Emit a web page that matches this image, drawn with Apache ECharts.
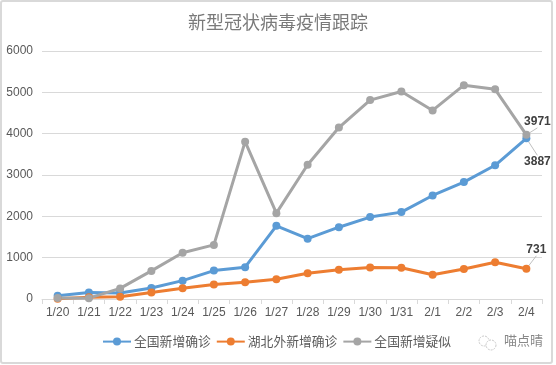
<!DOCTYPE html>
<html><head><meta charset="utf-8">
<script src="https://cdn.jsdelivr.net/npm/echarts@6/dist/echarts.min.js"></script>
<style>html,body{margin:0;padding:0;background:#fff}#c{width:556px;height:365px}</style>
</head><body><div id="c"></div>
<script>
const categories = ['1/20','1/21','1/22','1/23','1/24','1/25','1/26','1/27','1/28','1/29','1/30','1/31','2/1','2/2','2/3','2/4'];
const nationalConfirmed = [80, 160, 145, 265, 444, 688, 769, 1771, 1459, 1737, 1982, 2102, 2505, 2829, 3235, 3887];
const outsideHubeiConfirmed = [5, 40, 57, 155, 262, 350, 403, 478, 621, 705, 762, 755, 585, 726, 890, 731];
const nationalSuspected = [27, 20, 257, 680, 1118, 1309, 3806, 2077, 3248, 4148, 4812, 5019, 4562, 5173, 5072, 3971];
const seriesNames = ['全国新增确诊','湖北外新增确诊','全国新增疑似'];
const yTicks = [0, 1000, 2000, 3000, 4000, 5000, 6000];

const font = '"Noto Sans CJK SC", "Noto Sans", sans-serif';
const chart = echarts.init(document.getElementById('c'), null, {renderer:'canvas'});
const last = categories.length - 1;
function lastOnly(arr, lab) {
  return arr.map((v, i) => i === last ? {value: v, label: Object.assign({show: true}, lab)} : v);
}
const labelStyle = {color:'#404040', fontSize:12, fontFamily:'Liberation Sans, Arial, sans-serif', fontWeight:'bold'};
function mk(name, data, color, lab, layout) {
  return {
    name, type:'line', data: lastOnly(data, Object.assign({}, labelStyle, lab)),
    symbol:'circle', symbolSize:8, showSymbol:true,
    lineStyle:{color, width:3}, itemStyle:{color},
    label:{show:false},
    labelLayout: layout,
    labelLine:{show:true, lineStyle:{color:'#bfbfbf', width:1}},
    emphasis:{disabled:true}, animation:false, z: 2
  };
}
chart.setOption({
  animation:false,
  title:{text:'新型冠状病毒疫情跟踪', left:'center', top:8,
    textStyle:{fontFamily:font, fontSize:18, fontWeight:'normal', color:'#7a7a7a'}},
  grid:{left:42, right:14, top:51, bottom:66},
  legend:{bottom:12, left:97, itemWidth:28, itemHeight:10, itemGap:5,
    textStyle:{fontFamily:font, fontSize:12.8, color:'#595959', padding:[0,0,0,-2]},
    data: seriesNames},
  xAxis:{type:'category', data:categories, boundaryGap:true,
    axisLine:{lineStyle:{color:'#d9d9d9'}},
    axisTick:{show:true, alignWithLabel:false, length:5, lineStyle:{color:'#d9d9d9'}},
    axisLabel:{color:'#595959', fontSize:12, fontFamily:'Liberation Sans, Arial, sans-serif', margin:8, interval:0}},
  yAxis:{type:'value', min:yTicks[0], max:yTicks[yTicks.length-1], interval:1000,
    axisLine:{show:false}, axisTick:{show:false},
    splitLine:{lineStyle:{color:'#d9d9d9'}},
    axisLabel:{color:'#595959', fontSize:12, fontFamily:'Liberation Sans, Arial, sans-serif', margin:9,
      formatter: v => String(v)}},
  series:[
    mk(seriesNames[0], nationalConfirmed, '#5B9BD5', {position:'bottom', distance:5}, {dx:11, dy:8}),
    mk(seriesNames[1], outsideHubeiConfirmed, '#ED7D31', {position:'top', distance:5}, {dx:10, dy:-4}),
    mk(seriesNames[2], nationalSuspected, '#A5A5A5', {position:'top', distance:5}, {dx:11, dy:2})
  ],
  graphic:[
    {type:'rect', shape:{x:1, y:1, width:551, height:362, r:2}, style:{fill:'none', stroke:'#d9d9d9', lineWidth:2}, silent:true, z:-1},
    {type:'circle', shape:{cx:484, cy:341, r:5}, style:{fill:'none', stroke:'#c8c8c8', lineWidth:1, lineDash:[2,1]}},
    {type:'circle', shape:{cx:491, cy:345, r:5}, style:{fill:'#fff', stroke:'#c8c8c8', lineWidth:1, lineDash:[2,1]}},
    {type:'text', left:504, top:334, style:{text:'喵点晴', font:'13px "Noto Sans CJK SC"', fill:'#888'}}
  ]
});
</script></body></html>
